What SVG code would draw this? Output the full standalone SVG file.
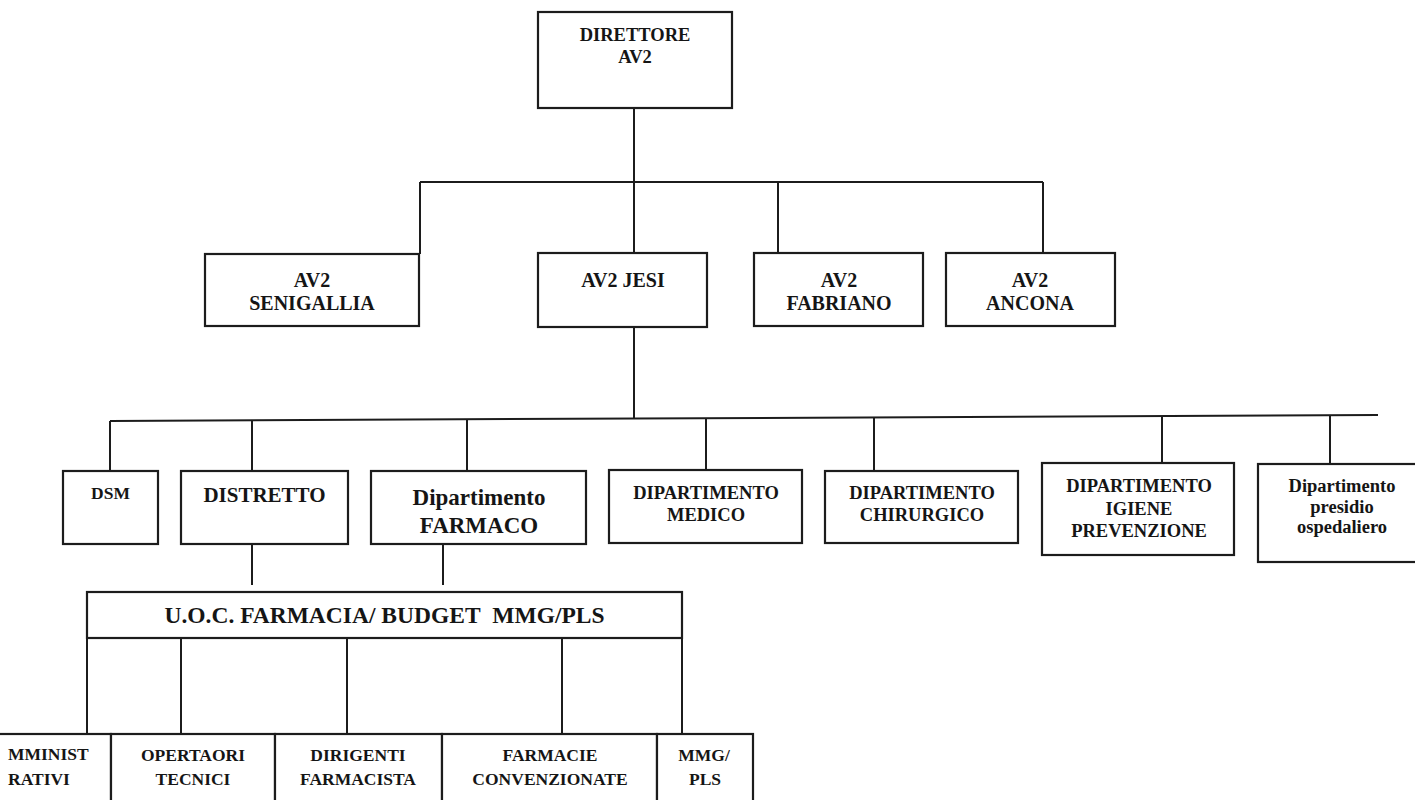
<svg xmlns="http://www.w3.org/2000/svg" width="1415" height="800" viewBox="0 0 1415 800">
<style>
  .box { fill: #ffffff; stroke: #1c1c1c; stroke-width: 2.2; }
  .ln { stroke: #1c1c1c; stroke-width: 2; fill: none; }
  text { font-family: "Liberation Serif", "Times New Roman", serif; font-weight: bold; fill: #151515; text-anchor: middle; }
  .t18 { font-size: 18.5px; }
  .t20 { font-size: 20px; }
  .t17 { font-size: 17.5px; }
</style>
<rect x="0" y="0" width="1415" height="800" fill="#ffffff"/>

<g id="connectors">
  <line class="ln" x1="634" y1="108" x2="634" y2="253"/>
  <line class="ln" x1="420" y1="182" x2="1043" y2="182"/>
  <line class="ln" x1="420" y1="182" x2="420" y2="254"/>
  <line class="ln" x1="778" y1="182" x2="778" y2="253"/>
  <line class="ln" x1="1043" y1="182" x2="1043" y2="253"/>
  <line class="ln" x1="634" y1="327" x2="634" y2="418"/>
  <line class="ln" x1="110" y1="421" x2="1378" y2="415"/>
  <line class="ln" x1="110" y1="421" x2="110" y2="471"/>
  <line class="ln" x1="252" y1="420" x2="252" y2="471"/>
  <line class="ln" x1="467" y1="419" x2="467" y2="471"/>
  <line class="ln" x1="706" y1="418" x2="706" y2="470"/>
  <line class="ln" x1="874" y1="417" x2="874" y2="471"/>
  <line class="ln" x1="1162" y1="416" x2="1162" y2="463"/>
  <line class="ln" x1="1330" y1="415" x2="1330" y2="464"/>
  <line class="ln" x1="252" y1="537" x2="252" y2="585"/>
  <line class="ln" x1="443" y1="544" x2="443" y2="585"/>
  <line class="ln" x1="87" y1="638" x2="87" y2="734"/>
  <line class="ln" x1="181" y1="638" x2="181" y2="734"/>
  <line class="ln" x1="347" y1="638" x2="347" y2="734"/>
  <line class="ln" x1="562" y1="638" x2="562" y2="734"/>
  <line class="ln" x1="682" y1="638" x2="682" y2="734"/>
</g>

<g id="direttore">
  <rect class="box" x="538" y="12" width="194" height="96"/>
  <text class="t18" x="635" y="41">DIRETTORE</text>
  <text class="t18" x="635" y="63">AV2</text>
</g>

<g id="senigallia">
  <rect class="box" x="205" y="254" width="214" height="72"/>
  <text class="t20" x="312" y="287">AV2</text>
  <text class="t20" x="312" y="310">SENIGALLIA</text>
</g>
<g id="jesi">
  <rect class="box" x="538" y="253" width="169" height="74"/>
  <text class="t20" x="623" y="287">AV2 JESI</text>
</g>
<g id="fabriano">
  <rect class="box" x="754" y="253" width="169" height="73"/>
  <text class="t20" x="839" y="287">AV2</text>
  <text class="t20" x="839" y="310">FABRIANO</text>
</g>
<g id="ancona">
  <rect class="box" x="946" y="253" width="169" height="73"/>
  <text class="t20" x="1030" y="287">AV2</text>
  <text class="t20" x="1030" y="310">ANCONA</text>
</g>

<g id="dsm">
  <rect class="box" x="63" y="471" width="95" height="73"/>
  <text x="110.5" y="499" style="font-size:17.5px">DSM</text>
</g>
<g id="distretto">
  <rect class="box" x="181" y="471" width="167" height="73"/>
  <text x="264.5" y="502" style="font-size:21px">DISTRETTO</text>
</g>
<g id="farmaco">
  <rect class="box" x="371" y="471" width="215" height="73"/>
  <text x="479" y="505" style="font-size:23px">Dipartimento</text>
  <text x="479" y="533" style="font-size:23px">FARMACO</text>
</g>
<g id="medico">
  <rect class="box" x="609" y="470" width="193" height="73"/>
  <text class="t18" x="706" y="499">DIPARTIMENTO</text>
  <text class="t18" x="706" y="521">MEDICO</text>
</g>
<g id="chirurgico">
  <rect class="box" x="825" y="471" width="193" height="72"/>
  <text class="t18" x="922" y="499">DIPARTIMENTO</text>
  <text class="t18" x="922" y="521">CHIRURGICO</text>
</g>
<g id="igiene">
  <rect class="box" x="1042" y="463" width="192" height="92"/>
  <text class="t18" x="1139" y="492">DIPARTIMENTO</text>
  <text class="t18" x="1139" y="515">IGIENE</text>
  <text class="t18" x="1139" y="537">PREVENZIONE</text>
</g>
<g id="presidio">
  <rect class="box" x="1258" y="464" width="170" height="98"/>
  <text x="1342" y="492" style="font-size:18.5px">Dipartimento</text>
  <text x="1342" y="513" style="font-size:18.5px">presidio</text>
  <text x="1342" y="533" style="font-size:18.5px">ospedaliero</text>
</g>

<g id="uoc">
  <rect class="box" x="87" y="592" width="595" height="46"/>
  <text x="384.5" y="623" style="font-size:23.5px">U.O.C. FARMACIA/ BUDGET&#160; MMG/PLS</text>
</g>

<g id="amministrativi">
  <rect class="box" x="-10" y="734" width="121" height="80"/>
  <text class="t17" x="8" y="760" style="text-anchor:start">MMINIST</text>
  <text class="t17" x="8" y="785" style="text-anchor:start">RATIVI</text>
</g>
<g id="operatori">
  <rect class="box" x="111" y="734" width="164" height="80"/>
  <text class="t17" x="193" y="761">OPERTAORI</text>
  <text class="t17" x="193" y="785">TECNICI</text>
</g>
<g id="dirigenti">
  <rect class="box" x="275" y="734" width="167" height="80"/>
  <text class="t17" x="358" y="761">DIRIGENTI</text>
  <text class="t17" x="358" y="785">FARMACISTA</text>
</g>
<g id="farmacie">
  <rect class="box" x="442" y="734" width="215" height="80"/>
  <text class="t17" x="550" y="761">FARMACIE</text>
  <text class="t17" x="550" y="785">CONVENZIONATE</text>
</g>
<g id="mmgpls">
  <rect class="box" x="657" y="734" width="96" height="80"/>
  <text class="t17" x="704" y="761">MMG/</text>
  <text class="t17" x="705" y="785">PLS</text>
</g>
</svg>
